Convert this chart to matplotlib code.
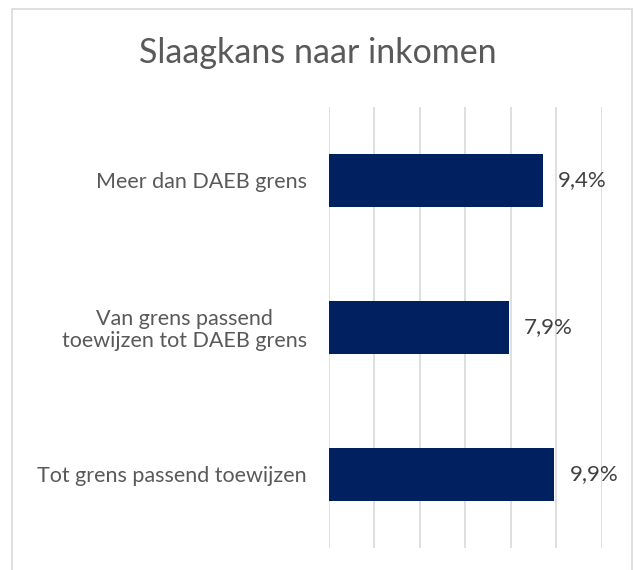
# Slaagkans naar inkomen - horizontal bar chart
import matplotlib.pyplot as plt
import matplotlib.patches as patches
import numpy as np

plt.rcParams['font.family'] = ['Lato', 'DejaVu Sans']

# Data
categories = ["Meer dan DAEB grens",
              "Van grens passend\ntoewijzen tot DAEB grens",
              "Tot grens passend toewijzen"]
values = [9.4, 7.9, 9.9]
value_labels = ["9,4%", "7,9%", "9,9%"]

fig = plt.figure(figsize=(6.35, 5.70), dpi=100)
ax = fig.add_axes([0.518, 0.0386, 0.430, 0.7737])

# chart border
fig.patches.append(patches.Rectangle((12/635, 1 - 572/570), 620/635, 563/570,
                                     transform=fig.transFigure, fill=False,
                                     edgecolor='#d9d9d9', linewidth=1.2))

y = np.arange(len(categories))
ax.barh(y, values, height=0.354, color='#002060', zorder=3)
ax.set_xlim(0, 12)
ax.set_ylim(len(categories) - 0.5, -0.5)
ax.set_xticks(np.arange(0, 13, 2))
ax.tick_params(axis='x', length=0, labelbottom=False)
ax.grid(axis='x', color='#d9d9d9', linewidth=1.2, zorder=0)
ax.set_yticks(y)
ax.set_yticklabels(categories, fontsize=15.5, color='#595959',
                   multialignment='center', linespacing=1.1)
ax.tick_params(axis='y', length=0, pad=16)
for s in ax.spines.values():
    s.set_visible(False)

for yi, v, lab in zip(y, values, value_labels):
    ax.annotate(lab, xy=(v, yi), xytext=(11, 0), textcoords='offset points',
                va='center', ha='left', fontsize=16, color='#404040')

fig.text(0.5, 1 - 63/570, 'Slaagkans naar inkomen', ha='center', va='baseline',
         fontsize=24.5, color='#595959')

plt.savefig('out.png')
